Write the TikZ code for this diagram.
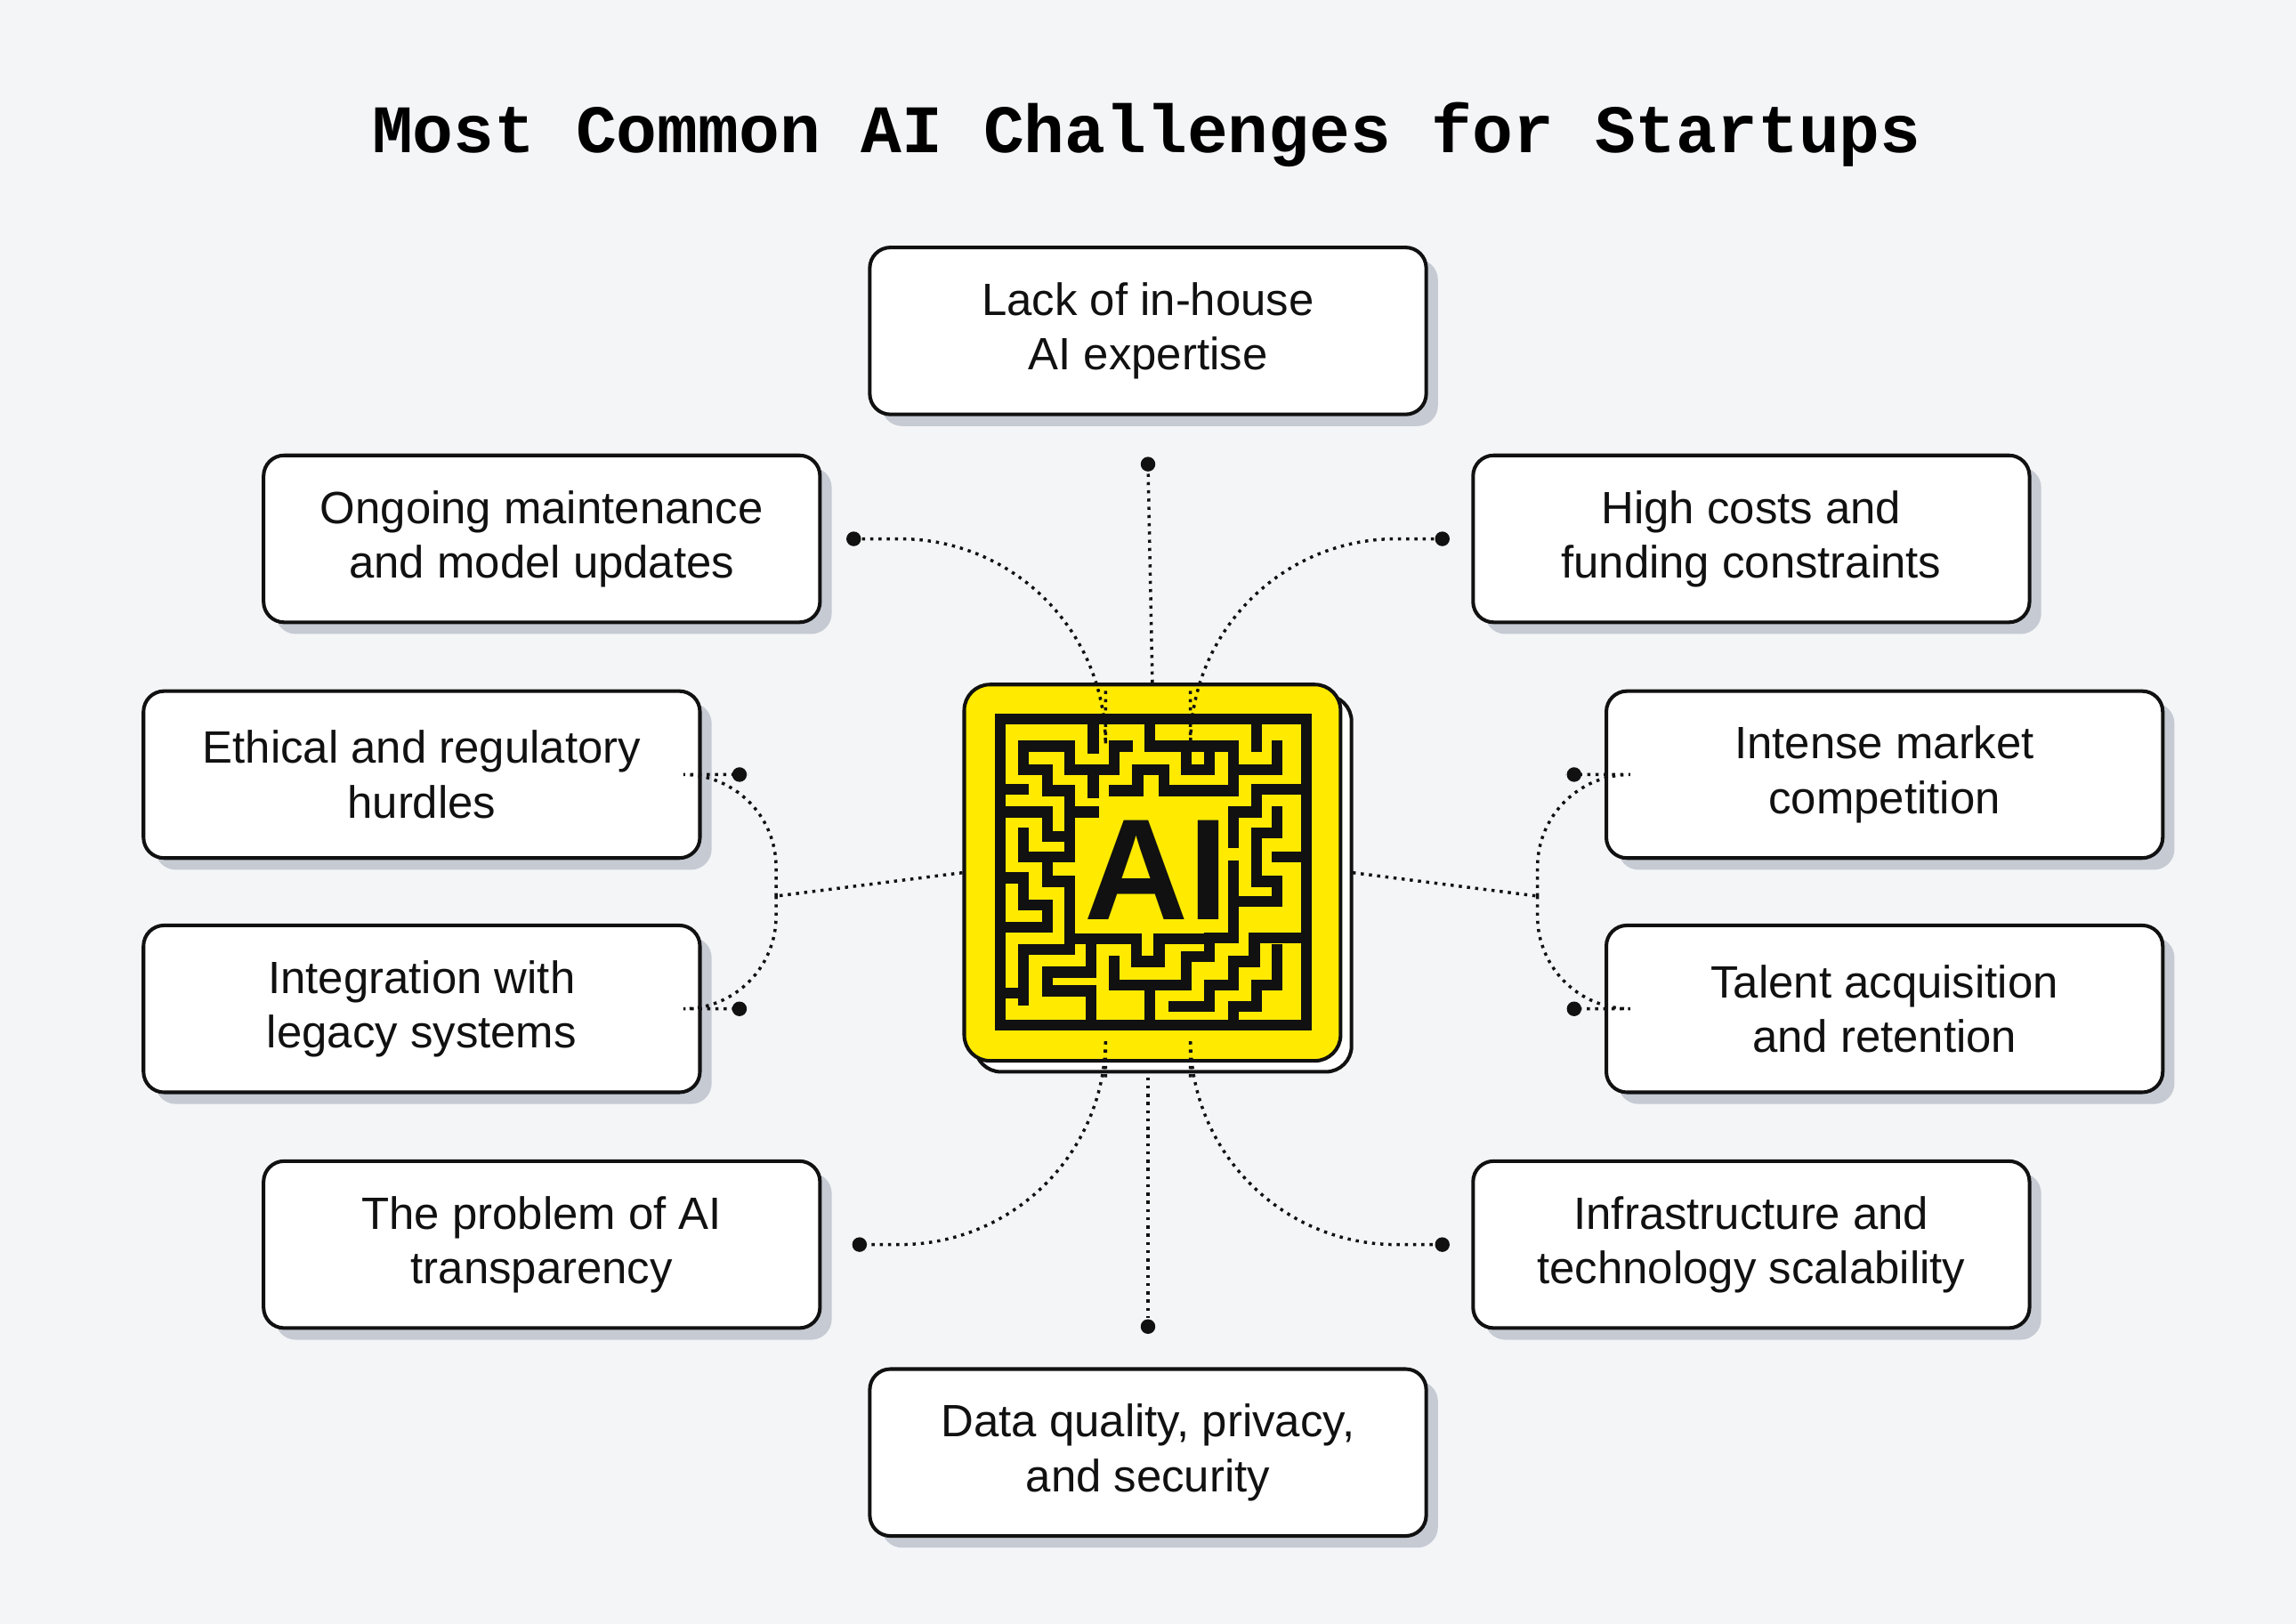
\documentclass[tikz,border=0pt]{standalone}
\usepackage{fontspec}
\setmainfont{Liberation Sans}
\newfontfamily\titlefont{Liberation Mono}
\usetikzlibrary{positioning, calc}
\definecolor{bgcol}{HTML}{F4F5F7}
\definecolor{shadowcol}{HTML}{C5CAD3}
\definecolor{aiyellow}{HTML}{FFEA00}
\definecolor{inkcol}{HTML}{111111}

\begin{document}
\begin{tikzpicture}[x=0.1mm, y=-0.1mm]
\tikzset{
  chal/.style={draw=inkcol, line width=0.7pt, fill=white, rounded corners=4pt, align=center,
    minimum width=38mm, minimum height=11.4mm, font=\fontsize{8.8}{10.6}\selectfont, text=inkcol},
  shade/.style={fill=shadowcol, rounded corners=4pt, minimum width=38mm, minimum height=11.4mm},
  dot/.style={circle, fill=inkcol, inner sep=0pt, minimum size=1mm},
  link/.style={densely dotted, line width=0.6pt, draw=inkcol},
  wall/.style={line width=0.75mm, draw=inkcol, line cap=rect}
}
\fill[bgcol] (0,0) rectangle (1568,1109);
\useasboundingbox (0,0) rectangle (1568,1109);

% title
\node (title) at (783,92) {\titlefont\bfseries\fontsize{13.2}{15}\selectfont Most Common AI Challenges for Startups};

% challenge boxes with offset shadows
\foreach \nm/\cx/\cy/\txt in {
  lack/784/226/{Lack of in-house\\AI expertise},
  ongo/370/368/{Ongoing maintenance\\and model updates},
  cost/1196/368/{High costs and\\funding constraints},
  ethic/288/529/{Ethical and regulatory\\hurdles},
  integ/288/689/{Integration with\\legacy systems},
  market/1287/529/{Intense market\\competition},
  talent/1287/689/{Talent acquisition\\and retention},
  transp/370/850/{The problem of AI\\transparency},
  infra/1196/850/{Infrastructure and\\technology scalability},
  data/784/992/{Data quality, privacy,\\and security}}{
  \node[shade] at (\cx+8,\cy+8) {};
  \node[chal] (\nm) at (\cx,\cy) {\txt};
}

% central AI tile
\draw[inkcol, line width=0.7pt, fill=white, rounded corners=5pt] (666,475) rectangle (923,732);
\node[draw=inkcol, line width=0.7pt, fill=aiyellow, rounded corners=5pt, minimum size=25.7mm] (ai) at (787,596) {};

% maze
\begin{scope}[shift={(683,491)}, x=0.804mm, y=-0.804mm]
\draw[wall] (0,0) rectangle (26,26);
\draw[wall] (7.9,0) -- (7.9,2.5);
\draw[wall] (10.8,2.3) -- (9.7,2.3) -- (9.7,4.3) -- (5.9,4.3) -- (5.9,2.3) -- (2,2.3) -- (2,4.3) -- (4,4.3) -- (4,6.1) -- (5.9,6.1) -- (5.9,7.9) -- (7.9,7.9);
\draw[wall] (7.9,4.3) -- (7.9,6.3);
\draw[wall] (12.7,0) -- (12.7,2.3) -- (19.8,2.3) -- (19.8,6.1) -- (13.9,6.1) -- (13.9,4.3) -- (11.7,4.3) -- (11.7,6.1) -- (9.7,6.1);
\draw[wall] (15.8,2.3) -- (15.8,4.3) -- (17.8,4.3) -- (17.8,2.8);
\draw[wall] (21.8,0) -- (21.8,2.3);
\draw[wall] (23.5,2.3) -- (23.5,4.3) -- (19.8,4.3);
\draw[wall] (0,6) -- (2,6);
\draw[wall] (0,7.9) -- (4,7.9) -- (4,10) -- (5,10);
\draw[wall] (5.9,7.9) -- (5.9,11.7) -- (2,11.7) -- (2,9.7);
\draw[wall] (4,11.7) -- (4,13.8) -- (5.9,13.8) -- (5.9,18.7) -- (11.6,18.7) -- (11.6,20.6) -- (13.5,20.6) -- (13.5,18.7) -- (17.8,18.7) -- (17.8,20.2) -- (15.8,20.2) -- (15.8,22.6) -- (9.7,22.6) -- (9.7,20.6);
\draw[wall] (0,13.5) -- (2,13.5) -- (2,15.8) -- (4,15.8) -- (4,17.7) -- (0,17.7);
\draw[wall] (2,23.9) -- (2,19.6) -- (5.9,19.6);
\draw[wall] (0,23.3) -- (2,23.3);
\draw[wall] (4,23.1) -- (4,21.5) -- (7.7,21.5) -- (7.7,19.6);
\draw[wall] (4,23.1) -- (7.7,23.1) -- (7.7,26);
\draw[wall] (12.7,26) -- (12.7,23.2);
\draw[wall] (14.8,24.4) -- (17.8,24.4) -- (17.8,22.6) -- (19.8,22.6) -- (19.8,20.6) -- (21.6,20.6) -- (21.6,18.6) -- (26,18.6);
\draw[wall] (19.8,26) -- (19.8,24.4) -- (21.8,24.4) -- (21.8,22.6) -- (23.5,22.6) -- (23.5,19.6);
\draw[wall] (19.8,7.9) -- (19.8,10.5);
\draw[wall] (19.8,7.9) -- (21.8,7.9) -- (21.8,6) -- (26,6);
\draw[wall] (19.8,12.5) -- (19.8,18.6) -- (17.8,18.6);
\draw[wall] (19.8,15.5) -- (23.5,15.5) -- (23.5,13.8) -- (21.8,13.8) -- (21.8,9.7) -- (23.5,9.7) -- (23.5,7.9);
\draw[wall] (23.5,11.7) -- (26,11.7);
\end{scope}
\node[text=inkcol, font=\bfseries\fontsize{28}{28}\selectfont] (ailabel) at (790,594) {AI};

% connector dots
\node[dot] (dLack) at (784,317) {};
\node[dot] (dOngo) at (583,368) {};
\node[dot] (dCost) at (985,368) {};
\node[dot] (dEthic) at (505,529) {};
\node[dot] (dInteg) at (505,689) {};
\node[dot] (dMarket) at (1075,529) {};
\node[dot] (dTalent) at (1075,689) {};
\node[dot] (dTransp) at (587,850) {};
\node[dot] (dInfra) at (985,850) {};
\node[dot] (dData) at (784,906) {};
\coordinate (jl) at (530,612);
\coordinate (jr) at (1050,612);

% connectors
\draw[link] (ai.north) -- (dLack);
\draw[link, rounded corners=40] ($(ai.north)+(-32,0)$) |- (dOngo);
\draw[link, rounded corners=40] ($(ai.north)+(26,0)$) |- (dCost);
\draw[link] (ai.west) -- (jl);
\draw[link, rounded corners=18] (jl) |- (dEthic);
\draw[link, rounded corners=18] (jl) |- (dInteg);
\draw[link] ($(ai.east)+(7,0)$) -- (jr);
\draw[link, rounded corners=18] (jr) |- (dMarket);
\draw[link, rounded corners=18] (jr) |- (dTalent);
\draw[link] ($(ai.south)+(-3,10)$) -- (dData);
\draw[link, rounded corners=40] ($(ai.south)+(-32,10)$) |- (dTransp);
\draw[link, rounded corners=40] ($(ai.south)+(26,10)$) |- (dInfra);
\end{tikzpicture}
\end{document}
